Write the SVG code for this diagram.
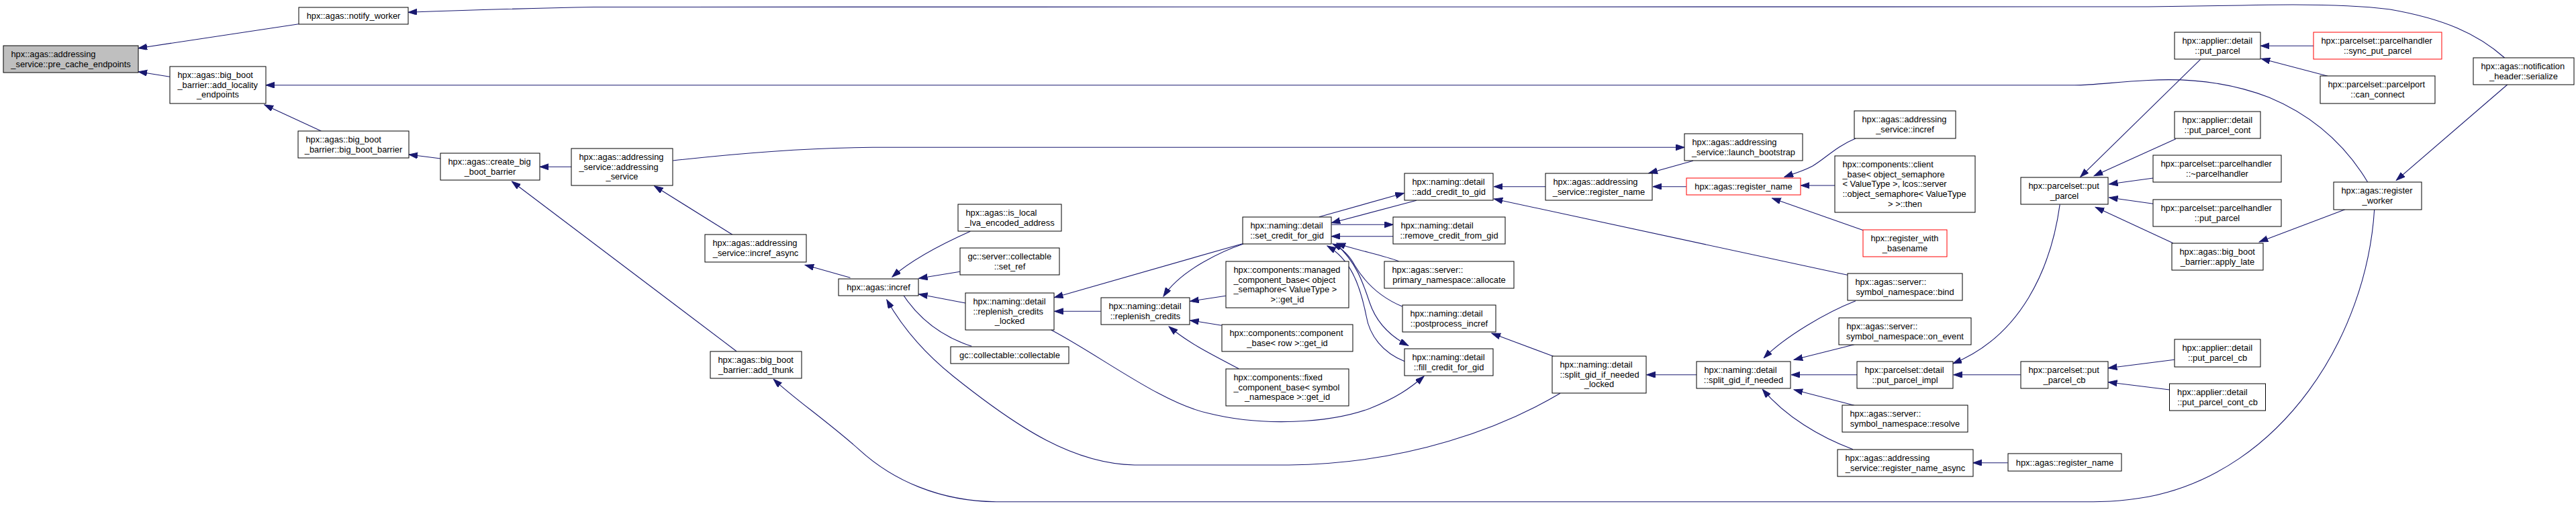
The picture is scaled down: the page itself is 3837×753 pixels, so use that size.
<svg xmlns="http://www.w3.org/2000/svg" width="3837" height="753" viewBox="0 0 3837 753">
<style>
rect{fill:#fff;stroke:#000;stroke-width:1}
.root rect{fill:#bfbfbf}
.red rect{stroke:#ff0000}
text{font-family:"Liberation Sans",Arial,sans-serif;font-size:12.9px;fill:#000}
.m{text-anchor:middle}
#edges path{fill:none;stroke:#191970;stroke-width:1.1;marker-end:url(#ah)}
</style>
<defs>
<marker id="ah" markerUnits="userSpaceOnUse" markerWidth="14" markerHeight="10" refX="13" refY="4.5" orient="auto">
<path d="M0,0 L13,4.5 L0,9 z" fill="#191970" stroke="#191970" stroke-width="1"/>
</marker>
</defs>
<rect x="0" y="0" width="3837" height="753" style="fill:#fff;stroke:none"/>
<g id="edges">
<path d="M444.9,35.7 L206.1,71.7"/>
<path d="M253,114.3 L206.1,106.7"/>
<path d="M3526.5,270.7 C3490,210 3440,170 3380,145 C3320,122 3260,116 3200,119.5 C3150,122 3120,126.7 3090,126.7 L396,126.7"/>
<path d="M478.4,195 L393.9,156"/>
<path d="M3730.6,86 C3690,50 3640,28 3560,14 C3500,6 3420,6 3340,8 L3200,10 L885,10.5 C800,12 700,15 608.2,18.3"/>
<path d="M656.3,236 L609,230"/>
<path d="M851.4,248.3 L804.1,248.3"/>
<path d="M1002.4,239 C1100,228 1200,220 1300,219.3 L2509,219.3"/>
<path d="M1091,349.3 L974.7,276.7"/>
<path d="M1097,522.7 L762.4,270"/>
<path d="M3536.7,311.7 C3525,500 3400,700 3200,739.3 C3150,748 3120,746.7 3090.6,746.7 L1484,746.7 C1400,746 1330,715 1280,669.3 C1230,625 1185,595 1152.2,564.3"/>
<path d="M1266.5,413.3 L1199.2,394.3"/>
<path d="M1445.3,344.3 C1410,360 1360,385 1329,412"/>
<path d="M1429.8,404.3 L1368.6,414.3"/>
<path d="M1438,451 L1368.6,437.7"/>
<path d="M1447.3,515.3 C1400,500 1360,470 1333,418"/>
<path d="M2324,585.3 C2240,635 2100,690 1920,692 L1690,692 C1600,690 1520,640 1420,560 C1370,520 1340,480 1320.8,446"/>
<path d="M1565.7,491 C1640,530 1730,600 1800,615 C1880,635 1980,630 2040,608 C2080,592 2100,578 2121,560"/>
<path d="M1639.6,463.3 L1570.6,463.3"/>
<path d="M1850.6,362.7 L1570.6,442.7"/>
<path d="M1852,363 C1825,372 1760,400 1733,441"/>
<path d="M1825.7,440.3 L1772.7,448.3"/>
<path d="M1819.6,484.3 L1772.7,476.7"/>
<path d="M1845.3,548.7 C1800,525 1770,510 1741.2,486"/>
<path d="M2302.4,277.7 L2225.3,277.7"/>
<path d="M1964.9,322.7 L2091.4,287.3"/>
<path d="M2109.8,298.3 L1983.3,331.7"/>
<path d="M1983.3,334.3 L2075.1,334.3"/>
<path d="M2075.1,351.7 L1983.3,351.7"/>
<path d="M2751.8,409.3 L2225.3,296"/>
<path d="M2522,239.3 L2455.9,257.7"/>
<path d="M2511.8,277.7 L2462,277.7"/>
<path d="M2764,206 C2735,218 2720,235 2700,247 C2685,255 2670,259 2658,263.3"/>
<path d="M2733.5,276 L2682.4,276"/>
<path d="M2775.5,342.7 L2639.6,295"/>
<path d="M2083.3,388.7 C2060,380 2020,372 1991,362"/>
<path d="M2088.6,456 C2050,440 2030,415 2018,395 C2010,380 2000,370 1985,363"/>
<path d="M1990,363 C2020,390 2030,420 2040,450 C2050,480 2070,500 2097.6,514.3"/>
<path d="M2092.2,537.7 C2060,525 2040,500 2035,470 C2025,420 2010,385 1977,366"/>
<path d="M2313.9,530.3 L2222,496"/>
<path d="M2527.3,557.7 L2452.7,557.7"/>
<path d="M2764,447.7 C2720,465 2660,500 2627.3,532.7"/>
<path d="M2762,512.7 L2672.2,535.3"/>
<path d="M2766.5,557.7 L2668.2,557.7"/>
<path d="M2762,603.3 L2672.2,580"/>
<path d="M2760,668.7 C2710,650 2660,620 2625.3,579.3"/>
<path d="M2990.6,688.7 L2938.8,688.7"/>
<path d="M3068.2,304.3 C3055,400 3010,500 2909,541"/>
<path d="M3009.8,557.7 L2909.8,557.7"/>
<path d="M3238.8,535.3 L3140.4,547.7"/>
<path d="M3231.4,580 L3140.4,568.7"/>
<path d="M3277.6,88.3 L3098.8,263.3"/>
<path d="M3240.8,206.7 L3119.2,261.7"/>
<path d="M3207.3,265 L3141.6,274"/>
<path d="M3207.3,303.3 L3141.6,294"/>
<path d="M3236.7,361.7 L3121.2,308.3"/>
<path d="M3446.1,68.3 L3367.3,68.3"/>
<path d="M3467.3,113.3 L3368.2,87.3"/>
<path d="M3734.7,126 L3569.4,268.3"/>
<path d="M3493,311.7 L3365.3,360"/>
</g>
<g id="n_pre" class="root"><rect x="5" y="68" width="201" height="40"/><text x="16.4" y="85">hpx::agas::addressing</text><text class="m" x="105.5" y="99.7">_service::pre_cache_endpoints</text></g>
<g id="n_notify"><rect x="445" y="11" width="163" height="25"/><text class="m" x="526.5" y="28">hpx::agas::notify_worker</text></g>
<g id="n_addloc"><rect x="253" y="99" width="143" height="55"/><text x="264.4" y="116">hpx::agas::big_boot</text><text x="264.4" y="130.7">_barrier::add_locality</text><text class="m" x="324.5" y="145.4">_endpoints</text></g>
<g id="n_bbb"><rect x="444" y="195" width="165" height="40"/><text x="455.4" y="212">hpx::agas::big_boot</text><text class="m" x="526.5" y="226.7">_barrier::big_boot_barrier</text></g>
<g id="n_create"><rect x="656" y="228" width="148" height="40"/><text x="667.4" y="245">hpx::agas::create_big</text><text class="m" x="730" y="259.7">_boot_barrier</text></g>
<g id="n_addrsvc"><rect x="851" y="221" width="151" height="55"/><text x="862.4" y="238">hpx::agas::addressing</text><text x="862.4" y="252.7">_service::addressing</text><text class="m" x="926.5" y="267.4">_service</text></g>
<g id="n_increfasync"><rect x="1050" y="349" width="151" height="41"/><text x="1061.4" y="366">hpx::agas::addressing</text><text class="m" x="1125.5" y="380.7">_service::incref_async</text></g>
<g id="n_addthunk"><rect x="1058" y="523" width="136" height="40"/><text x="1069.4" y="540">hpx::agas::big_boot</text><text class="m" x="1126" y="554.7">_barrier::add_thunk</text></g>
<g id="n_incref"><rect x="1249" y="415" width="119" height="25"/><text class="m" x="1308.5" y="432">hpx::agas::incref</text></g>
<g id="n_islocal"><rect x="1427" y="304" width="154" height="40"/><text x="1438.4" y="321">hpx::agas::is_local</text><text class="m" x="1504" y="335.7">_lva_encoded_address</text></g>
<g id="n_setref"><rect x="1430" y="369" width="148" height="40"/><text x="1441.4" y="386">gc::server::collectable</text><text class="m" x="1504" y="400.7">::set_ref</text></g>
<g id="n_replocked"><rect x="1438" y="436" width="132" height="55"/><text x="1449.4" y="453">hpx::naming::detail</text><text x="1449.4" y="467.7">::replenish_credits</text><text class="m" x="1504" y="482.4">_locked</text></g>
<g id="n_gccoll"><rect x="1416" y="516" width="176" height="25"/><text class="m" x="1504" y="533">gc::collectable::collectable</text></g>
<g id="n_setcredit"><rect x="1851" y="323" width="132" height="40"/><text x="1862.4" y="340">hpx::naming::detail</text><text class="m" x="1917" y="354.7">::set_credit_for_gid</text></g>
<g id="n_rep"><rect x="1640" y="443" width="132" height="40"/><text x="1651.4" y="460">hpx::naming::detail</text><text class="m" x="1706" y="474.7">::replenish_credits</text></g>
<g id="n_managed"><rect x="1826" y="389" width="183" height="69"/><text x="1837.4" y="406">hpx::components::managed</text><text x="1837.4" y="420.7">_component_base&lt; object</text><text x="1837.4" y="435.4">_semaphore&lt; ValueType &gt;</text><text class="m" x="1917.5" y="450.1">&gt;::get_id</text></g>
<g id="n_row"><rect x="1820" y="483" width="195" height="40"/><text x="1831.4" y="500">hpx::components::component</text><text class="m" x="1917.5" y="514.7">_base&lt; row &gt;::get_id</text></g>
<g id="n_fixed"><rect x="1826" y="549" width="183" height="55"/><text x="1837.4" y="566">hpx::components::fixed</text><text x="1837.4" y="580.7">_component_base&lt; symbol</text><text class="m" x="1917.5" y="595.4">_namespace &gt;::get_id</text></g>
<g id="n_addcredit"><rect x="2092" y="258" width="132" height="40"/><text x="2103.4" y="275">hpx::naming::detail</text><text class="m" x="2158" y="289.7">::add_credit_to_gid</text></g>
<g id="n_removecredit"><rect x="2075" y="323" width="167" height="40"/><text x="2086.4" y="340">hpx::naming::detail</text><text class="m" x="2158.5" y="354.7">::remove_credit_from_gid</text></g>
<g id="n_allocate"><rect x="2062" y="389" width="193" height="40"/><text x="2073.4" y="406">hpx::agas::server::</text><text class="m" x="2158.5" y="420.7">primary_namespace::allocate</text></g>
<g id="n_postproc"><rect x="2089" y="454" width="139" height="40"/><text x="2100.4" y="471">hpx::naming::detail</text><text class="m" x="2158.5" y="485.7">::postprocess_incref</text></g>
<g id="n_fillcredit"><rect x="2092" y="519" width="132" height="40"/><text x="2103.4" y="536">hpx::naming::detail</text><text class="m" x="2158" y="550.7">::fill_credit_for_gid</text></g>
<g id="n_launch"><rect x="2509" y="199" width="176" height="40"/><text x="2520.4" y="216">hpx::agas::addressing</text><text class="m" x="2597" y="230.7">_service::launch_bootstrap</text></g>
<g id="n_asregname"><rect x="2302" y="258" width="159" height="40"/><text x="2313.4" y="275">hpx::agas::addressing</text><text class="m" x="2381.5" y="289.7">_service::register_name</text></g>
<g id="n_splitlocked"><rect x="2312" y="530" width="140" height="55"/><text x="2323.4" y="547">hpx::naming::detail</text><text x="2323.4" y="561.7">::split_gid_if_needed</text><text class="m" x="2382" y="576.4">_locked</text></g>
<g id="n_regname" class="red"><rect x="2512" y="265" width="170" height="25"/><text class="m" x="2597" y="282">hpx::agas::register_name</text></g>
<g id="n_asincref"><rect x="2762" y="165" width="151" height="41"/><text x="2773.4" y="182">hpx::agas::addressing</text><text class="m" x="2837.5" y="196.7">_service::incref</text></g>
<g id="n_client"><rect x="2733" y="232" width="209" height="84"/><text x="2744.4" y="249">hpx::components::client</text><text x="2744.4" y="263.7">_base&lt; object_semaphore</text><text x="2744.4" y="278.4">&lt; ValueType &gt;, lcos::server</text><text x="2744.4" y="293.1">::object_semaphore&lt; ValueType</text><text class="m" x="2837.5" y="307.8">&gt; &gt;::then</text></g>
<g id="n_regwith" class="red"><rect x="2775" y="342" width="125" height="40"/><text x="2786.4" y="359">hpx::register_with</text><text class="m" x="2837.5" y="373.7">_basename</text></g>
<g id="n_split"><rect x="2527" y="538" width="140" height="40"/><text x="2538.4" y="555">hpx::naming::detail</text><text class="m" x="2597" y="569.7">::split_gid_if_needed</text></g>
<g id="n_bind"><rect x="2752" y="407" width="171" height="40"/><text x="2763.4" y="424">hpx::agas::server::</text><text class="m" x="2837.5" y="438.7">symbol_namespace::bind</text></g>
<g id="n_onevent"><rect x="2739" y="473" width="197" height="40"/><text x="2750.4" y="490">hpx::agas::server::</text><text class="m" x="2837.5" y="504.7">symbol_namespace::on_event</text></g>
<g id="n_impl"><rect x="2766" y="538" width="143" height="40"/><text x="2777.4" y="555">hpx::parcelset::detail</text><text class="m" x="2837.5" y="569.7">::put_parcel_impl</text></g>
<g id="n_resolve"><rect x="2744" y="603" width="187" height="40"/><text x="2755.4" y="620">hpx::agas::server::</text><text class="m" x="2837.5" y="634.7">symbol_namespace::resolve</text></g>
<g id="n_async"><rect x="2737" y="669" width="202" height="40"/><text x="2748.4" y="686">hpx::agas::addressing</text><text class="m" x="2838" y="700.7">_service::register_name_async</text></g>
<g id="n_regname2"><rect x="2991" y="675" width="169" height="26"/><text class="m" x="3075.5" y="692.5">hpx::agas::register_name</text></g>
<g id="n_putcb"><rect x="3010" y="538" width="130" height="40"/><text x="3021.4" y="555">hpx::parcelset::put</text><text class="m" x="3075" y="569.7">_parcel_cb</text></g>
<g id="n_putparcel"><rect x="3010" y="264" width="130" height="40"/><text x="3021.4" y="281">hpx::parcelset::put</text><text class="m" x="3075" y="295.7">_parcel</text></g>
<g id="n_apput"><rect x="3239" y="48" width="128" height="40"/><text x="3250.4" y="65">hpx::applier::detail</text><text class="m" x="3303" y="79.7">::put_parcel</text></g>
<g id="n_sync" class="red"><rect x="3446" y="48" width="191" height="40"/><text x="3457.4" y="65">hpx::parcelset::parcelhandler</text><text class="m" x="3541.5" y="79.7">::sync_put_parcel</text></g>
<g id="n_canconnect"><rect x="3456" y="113" width="171" height="41"/><text x="3467.4" y="130">hpx::parcelset::parcelport</text><text class="m" x="3541.5" y="144.7">::can_connect</text></g>
<g id="n_serialize"><rect x="3684" y="86" width="150" height="40"/><text x="3695.4" y="103">hpx::agas::notification</text><text class="m" x="3759" y="117.7">_header::serialize</text></g>
<g id="n_cont"><rect x="3239" y="166" width="128" height="40"/><text x="3250.4" y="183">hpx::applier::detail</text><text class="m" x="3303" y="197.7">::put_parcel_cont</text></g>
<g id="n_dtor"><rect x="3207" y="231" width="191" height="40"/><text x="3218.4" y="248">hpx::parcelset::parcelhandler</text><text class="m" x="3302.5" y="262.7">::~parcelhandler</text></g>
<g id="n_phput"><rect x="3207" y="297" width="191" height="40"/><text x="3218.4" y="314">hpx::parcelset::parcelhandler</text><text class="m" x="3302.5" y="328.7">::put_parcel</text></g>
<g id="n_applylate"><rect x="3235" y="362" width="136" height="40"/><text x="3246.4" y="379">hpx::agas::big_boot</text><text class="m" x="3303" y="393.7">_barrier::apply_late</text></g>
<g id="n_regworker"><rect x="3476" y="271" width="131" height="41"/><text x="3487.4" y="288">hpx::agas::register</text><text class="m" x="3541.5" y="302.7">_worker</text></g>
<g id="n_apcb"><rect x="3239" y="505" width="128" height="41"/><text x="3250.4" y="522">hpx::applier::detail</text><text class="m" x="3303" y="536.7">::put_parcel_cb</text></g>
<g id="n_contcb"><rect x="3231.5" y="571" width="143" height="40"/><text x="3243" y="588">hpx::applier::detail</text><text class="m" x="3303" y="602.7">::put_parcel_cont_cb</text></g>
</svg>
